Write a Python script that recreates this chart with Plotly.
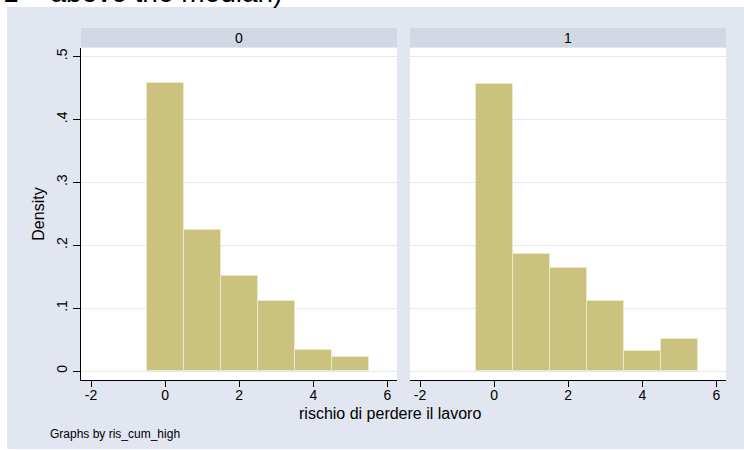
import plotly.graph_objects as go

# ---- data ----
bin_centers = [0, 1, 2, 3, 4, 5]
density_0 = [0.458, 0.224, 0.151, 0.112, 0.033, 0.022]
density_1 = [0.456, 0.186, 0.163, 0.111, 0.032, 0.051]
panel_labels = ["0", "1"]
x_ticks = [-2, 0, 2, 4, 6]
x_tick_labels = ["-2", "0", "2", "4", "6"]
y_ticks = [0, 0.1, 0.2, 0.3, 0.4, 0.5]
y_tick_labels = ["0", ".1", ".2", ".3", ".4", ".5"]

W, H = 744, 450
BG = "#E1E6F0"
STRIP = "#D1D8E4"
BAR = "#CAC27E"
BAR_LINE = "#ECE8C6"
GRID = "#E3E8F1"
FONT = "Liberation Sans, Arial, sans-serif"

def px_x(p):
    return p / W

def px_y(p):
    return (H - p) / H

panel_x = [(81, 397), (410, 726)]
plot_top, plot_bottom = 48, 380

fig = go.Figure()
for i, dens in enumerate([density_0, density_1]):
    fig.add_trace(go.Bar(
        x=bin_centers, y=dens, width=1,
        marker=dict(color=BAR, line=dict(color=BAR_LINE, width=1)),
        xaxis="x" if i == 0 else "x2", yaxis="y" if i == 0 else "y2",
        showlegend=False, hoverinfo="skip"))

xcommon = dict(range=[-2.27, 6.26], tickvals=x_ticks, ticktext=x_tick_labels,
               ticks="outside", ticklen=6,
               tickcolor="black", showline=True, linecolor="black", linewidth=1,
               showgrid=False, zeroline=False, ticklabelstandoff=-4,
               tickfont=dict(family=FONT, size=14, color="black"))
ycommon = dict(range=[-0.0143, 0.5135], tickvals=y_ticks, showgrid=True,
               gridcolor=GRID, gridwidth=1, zeroline=False)

fig.update_layout(
    width=W, height=H,
    margin=dict(l=0, r=0, t=0, b=0),
    paper_bgcolor=BG, plot_bgcolor="white",
    bargap=0,
    xaxis=dict(domain=[px_x(panel_x[0][0]), px_x(panel_x[0][1])], anchor="y", **xcommon),
    xaxis2=dict(domain=[px_x(panel_x[1][0]), px_x(panel_x[1][1])], anchor="y2", **xcommon),
    yaxis=dict(domain=[px_y(plot_bottom), px_y(plot_top)], anchor="x",
               ticktext=y_tick_labels, ticks="outside", ticklen=7, tickcolor="black",
               tickangle=-90, showline=True, linecolor="black", linewidth=1,
               tickfont=dict(family=FONT, size=14, color="black"),
               title=dict(text="Density", font=dict(family=FONT, size=16, color="black"),
                          standoff=5),
               **ycommon),
    yaxis2=dict(domain=[px_y(plot_bottom), px_y(plot_top)], anchor="x2",
                showticklabels=False, ticks="", showline=False, **ycommon),
)

# white outer margins (left strip, top strip, bottom row)
shapes = [
    dict(type="rect", xref="paper", yref="paper", x0=0, x1=px_x(7), y0=0, y1=1,
         fillcolor="white", line=dict(width=0), layer="below"),
    dict(type="rect", xref="paper", yref="paper", x0=0, x1=1, y0=px_y(7), y1=1,
         fillcolor="white", line=dict(width=0), layer="below"),
    dict(type="rect", xref="paper", yref="paper", x0=0, x1=1, y0=0, y1=px_y(449),
         fillcolor="white", line=dict(width=0), layer="below"),
]
annotations = []
for (x0, x1), lab in zip(panel_x, panel_labels):
    shapes.append(dict(type="rect", xref="paper", yref="paper", x0=px_x(x0), x1=px_x(x1),
                       y0=px_y(47), y1=px_y(28), fillcolor=STRIP, line=dict(width=0),
                       layer="below"))
    annotations.append(dict(text=lab, xref="paper", yref="paper", x=px_x((x0 + x1) / 2),
                            y=px_y(37.5), xanchor="center", yanchor="middle", showarrow=False,
                            font=dict(family=FONT, size=14, color="black")))

annotations.append(dict(text="rischio di perdere il lavoro", xref="paper", yref="paper",
                        x=px_x(390), y=px_y(413), xanchor="center", yanchor="middle",
                        showarrow=False, font=dict(family=FONT, size=16, color="black")))
annotations.append(dict(text="Graphs by ris_cum_high", xref="paper", yref="paper",
                        x=px_x(48), y=px_y(434), xanchor="left", yanchor="middle",
                        showarrow=False, font=dict(family=FONT, size=12, color="black")))
annotations.append(dict(text="1 = above the median)", xref="paper", yref="paper",
                        x=px_x(1), y=px_y(10), xanchor="left", yanchor="bottom",
                        showarrow=False, font=dict(family=FONT, size=28, color="black")))

fig.update_layout(shapes=shapes, annotations=annotations)
fig.write_html("out.html", config={"displayModeBar": False})

# remove the default page margin so the figure sits at the window's top-left corner
with open("out.html", "r", encoding="utf-8") as f:
    html = f.read()
html = html.replace("<body>", '<body style="margin:0;padding:0;">', 1)
with open("out.html", "w", encoding="utf-8") as f:
    f.write(html)
